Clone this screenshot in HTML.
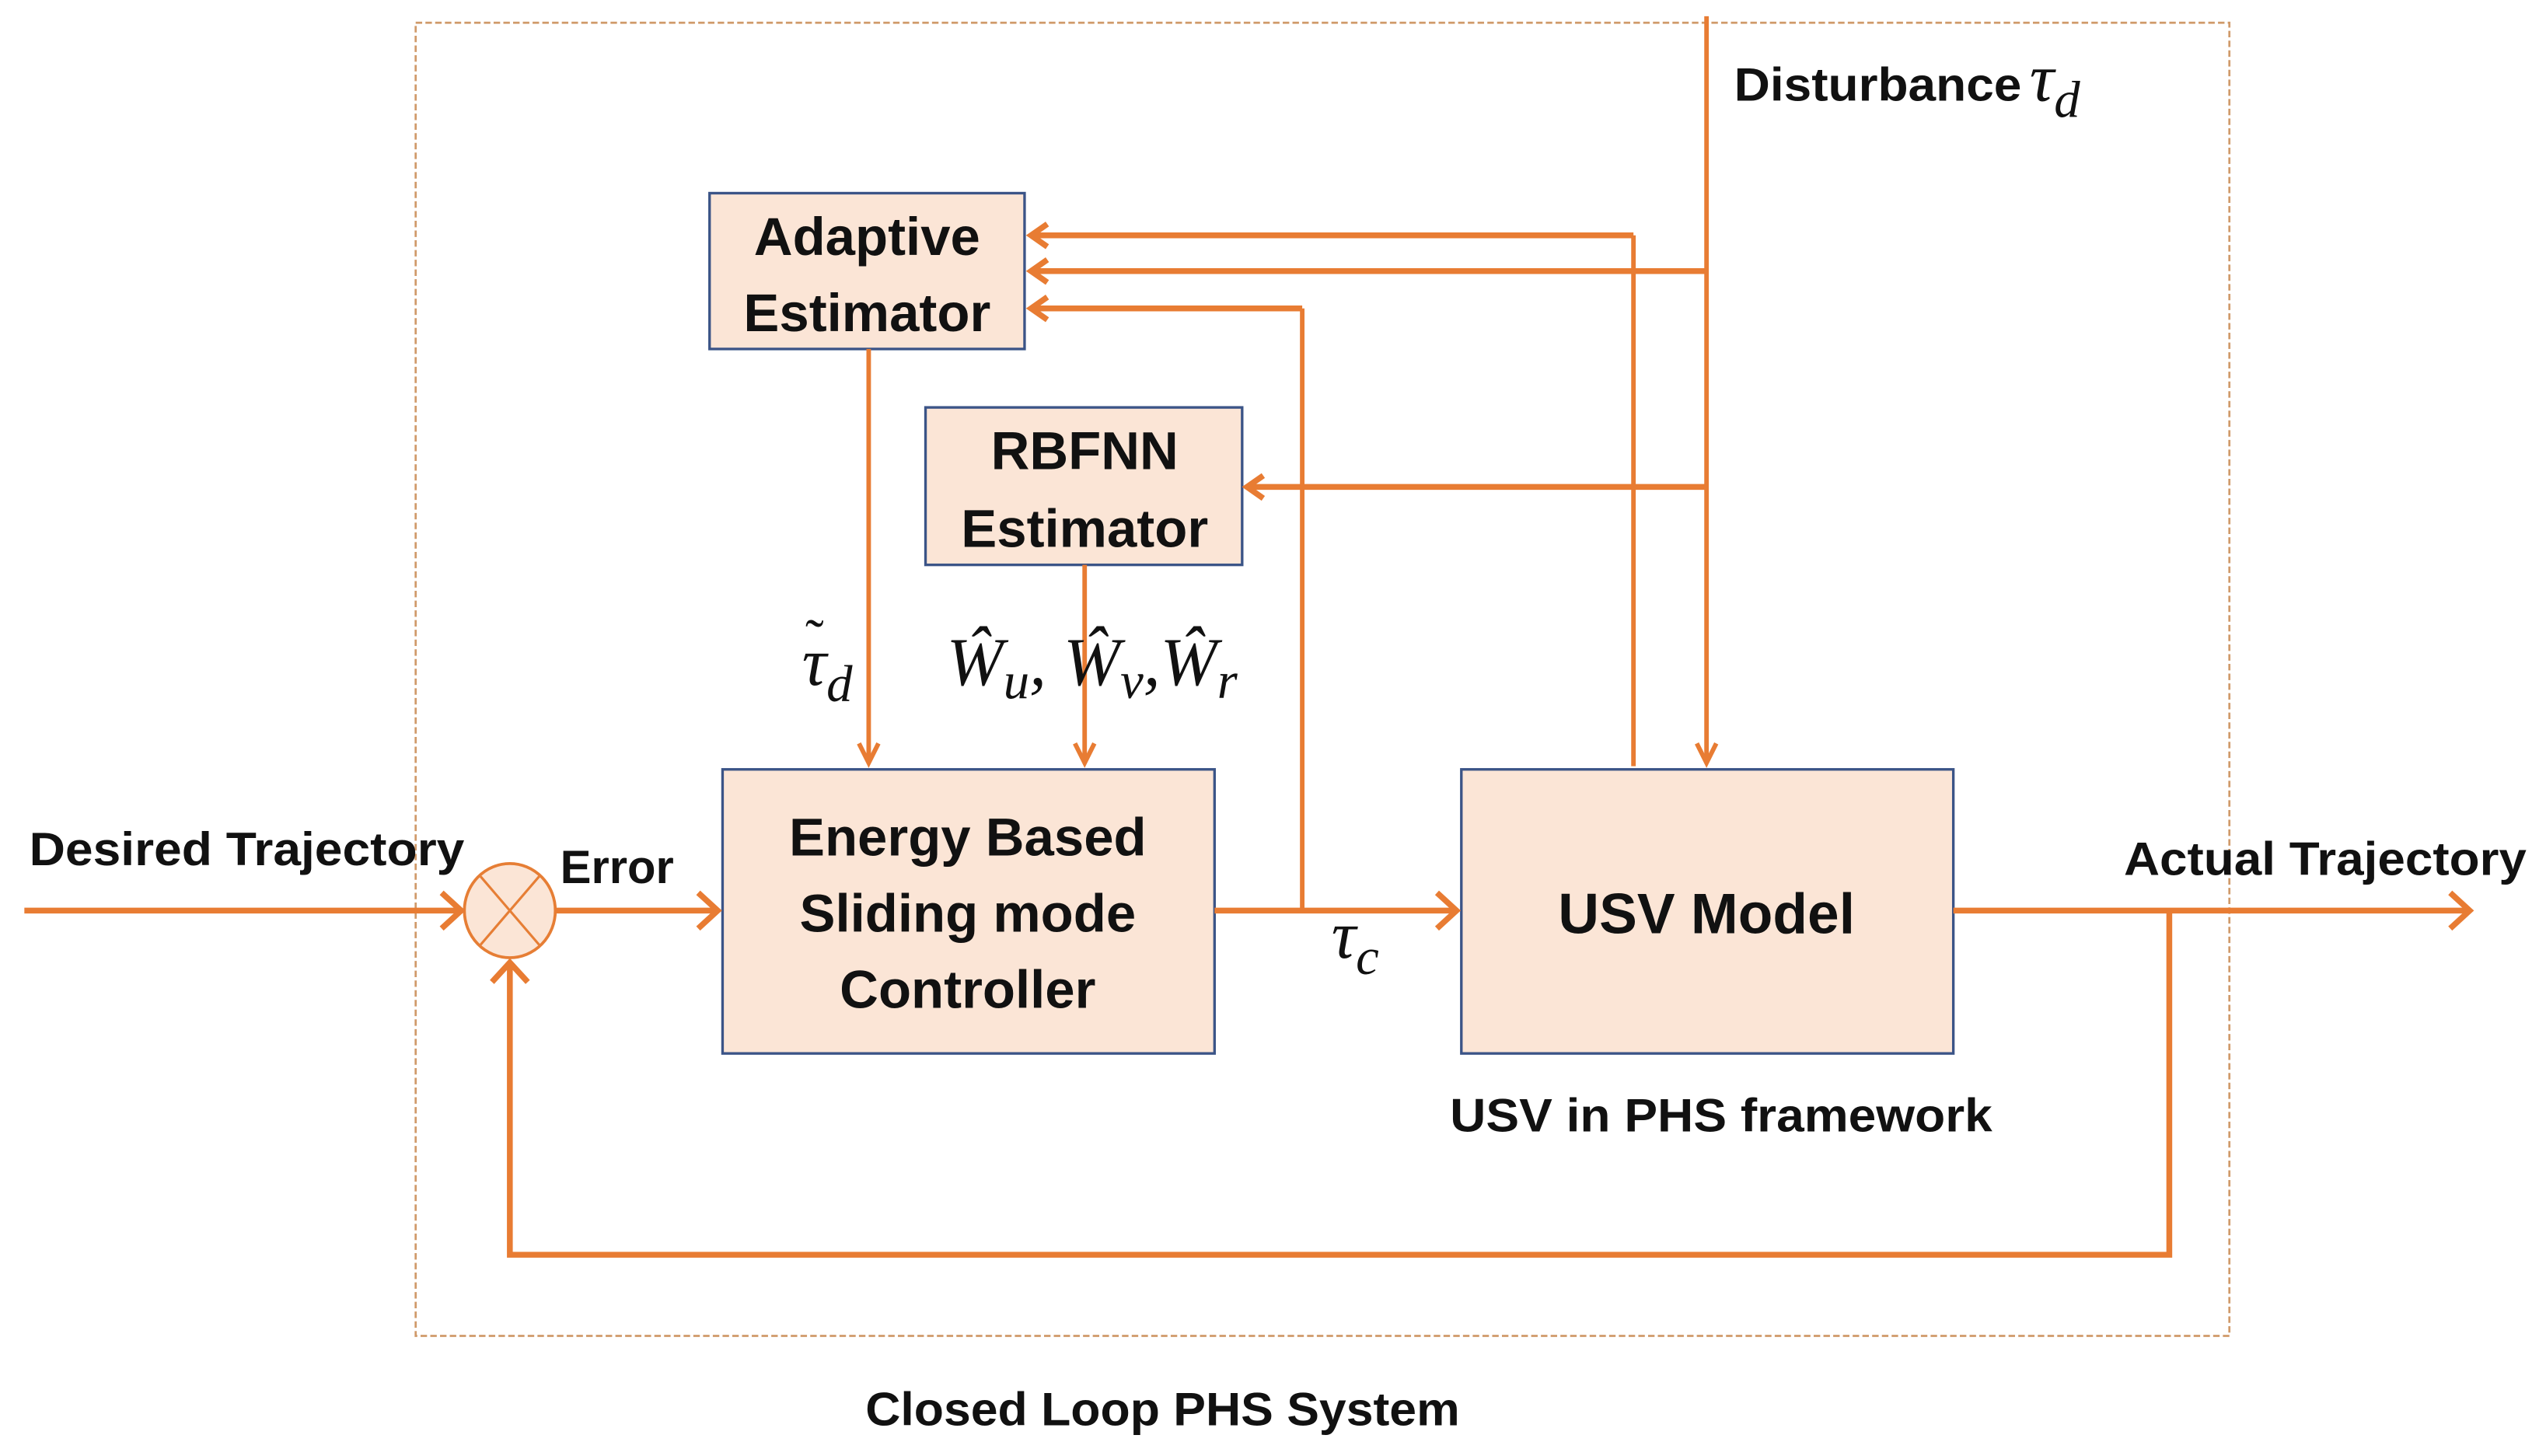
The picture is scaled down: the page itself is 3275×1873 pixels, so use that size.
<!DOCTYPE html>
<html><head><meta charset="utf-8"><style>
html,body{margin:0;padding:0;background:#fff;}
svg{display:block;}
.t{font-family:"Liberation Sans",sans-serif;font-weight:bold;fill:#111;}
.m{font-family:"Liberation Serif",serif;font-style:italic;fill:#111;}
</style></head><body>
<svg width="3275" height="1873" viewBox="0 0 1568 897" preserveAspectRatio="none" xmlns="http://www.w3.org/2000/svg">
<rect x="256" y="14" width="1117" height="809" fill="none" stroke="#D09A6A" stroke-width="1.3" stroke-dasharray="4,2"/>
<g fill="#FBE5D6" stroke="#3B5487" stroke-width="1.6">
<rect x="437" y="119" width="194" height="96"/>
<rect x="570" y="251" width="195" height="97"/>
<rect x="445" y="474" width="303" height="175"/>
<rect x="900" y="474" width="303" height="175"/>
</g>
<ellipse cx="314" cy="561" rx="28" ry="29" fill="#FBE5D6" stroke="#E67E35" stroke-width="1.8"/>
<g stroke="#E67E35" stroke-width="1.5"><line x1="296" y1="540" x2="332" y2="582"/><line x1="332" y1="540" x2="296" y2="582"/></g>
<g fill="none" stroke="#E87C33" stroke-width="3.6" stroke-linejoin="miter">
<line x1="15" y1="561" x2="284" y2="561"/>
<polyline points="272,550 284,561 272,572"/>
<line x1="342" y1="561" x2="442" y2="561"/>
<polyline points="430,550 442,561 430,572"/>
<line x1="748" y1="561" x2="897" y2="561"/>
<polyline points="885,550 897,561 885,572"/>
<line x1="1203" y1="561" x2="1521" y2="561"/>
<polyline points="1509,550 1521,561 1509,572"/>
<polyline points="1336,561 1336,773 314,773 314,593"/>
<polyline points="303,605 314,593 325,605"/>
<line x1="1006" y1="145" x2="635" y2="145"/>
<polyline points="645,138 635,145 645,152"/>
<line x1="1051" y1="167" x2="635" y2="167"/>
<polyline points="645,160 635,167 645,174"/>
<line x1="802" y1="190" x2="635" y2="190"/>
<polyline points="645,183 635,190 645,197"/>
<line x1="1051" y1="300" x2="768" y2="300"/>
<polyline points="778,293 768,300 778,307"/>
</g>
<g fill="none" stroke="#E87C33" stroke-width="2.8">
<line x1="1051" y1="10" x2="1051" y2="470"/>
<polyline points="1045,458 1051,470 1057,458"/>
<polyline points="1006,472 1006,145"/>
<polyline points="802,561 802,190"/>
<line x1="535" y1="215" x2="535" y2="470"/>
<polyline points="529,458 535,470 541,458"/>
<line x1="668" y1="348" x2="668" y2="470"/>
<polyline points="662,458 668,470 674,458"/>
</g>
<g class="t" text-anchor="middle" font-size="33">
<text x="534" y="157">Adaptive</text>
<text x="534" y="204">Estimator</text>
<text x="668" y="289">RBFNN</text>
<text x="668" y="337">Estimator</text>
<text x="596" y="527">Energy Based</text>
<text x="596" y="574">Sliding mode</text>
<text x="596" y="621">Controller</text>
<text x="1051" y="575" font-size="35">USV Model</text>
</g>
<g class="t" font-size="29">
<text x="893" y="697" textLength="334" lengthAdjust="spacingAndGlyphs">USV in PHS framework</text>
<text x="533" y="878" textLength="366" lengthAdjust="spacingAndGlyphs">Closed Loop PHS System</text>
<text x="18" y="533" textLength="268" lengthAdjust="spacingAndGlyphs">Desired Trajectory</text>
<text x="345" y="544" textLength="70" lengthAdjust="spacingAndGlyphs">Error</text>
<text x="1308" y="539" textLength="248" lengthAdjust="spacingAndGlyphs">Actual Trajectory</text>
<text x="1068" y="62" textLength="177" lengthAdjust="spacingAndGlyphs">Disturbance</text>
</g>
<g class="m">
<text x="1250" y="62" font-size="42">τ<tspan font-size="32" dy="10">d</tspan></text>
<text x="494" y="422" font-size="42">τ<tspan font-size="32" dy="10">d</tspan></text>
<text x="496" y="405" font-size="34" font-style="normal">˜</text>
<text x="583" y="422" font-size="42">Ŵ<tspan font-size="32" dy="8">u</tspan><tspan dy="-8">, Ŵ</tspan><tspan font-size="32" dy="8">v</tspan><tspan dy="-8">,Ŵ</tspan><tspan font-size="32" dy="8">r</tspan></text>
<text x="820" y="590" font-size="42">τ<tspan font-size="32" dy="10">c</tspan></text>
</g>
</svg>
</body></html>
